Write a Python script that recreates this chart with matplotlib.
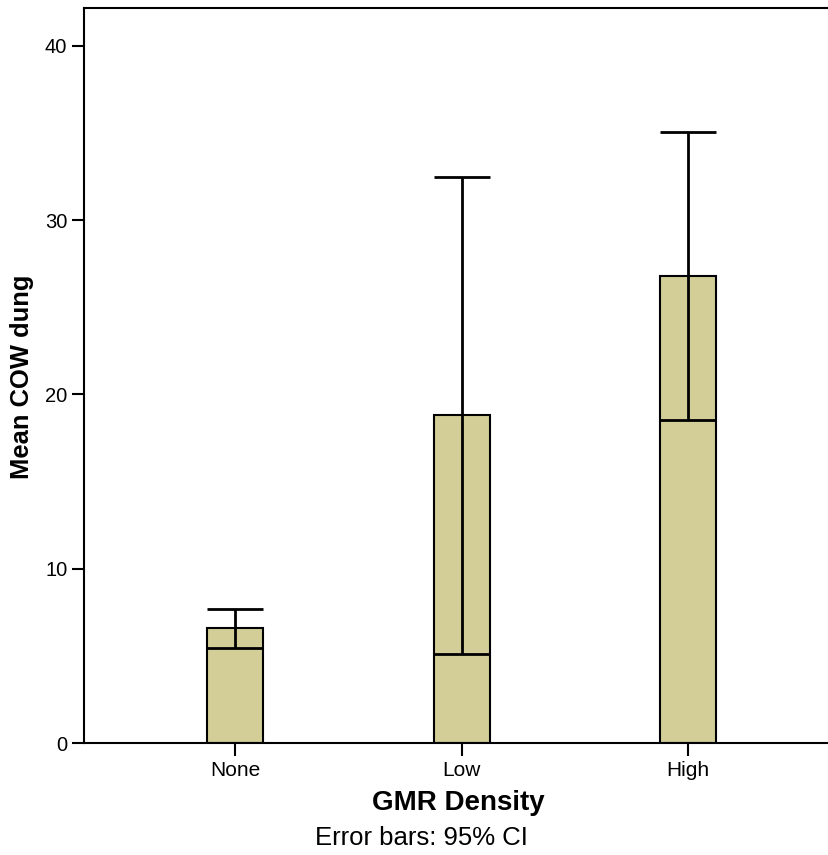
import matplotlib
matplotlib.use("Agg")
import matplotlib.pyplot as plt

# Mean cow dung by GMR density with 95% confidence intervals
categories = ["None", "Low", "High"]
means = [6.6, 18.8, 26.8]
ci_lower = [5.45, 5.08, 18.55]
ci_upper = [7.7, 32.5, 35.05]
y_ticks = [0, 10, 20, 30, 40]

plt.rcParams["font.family"] = ["Liberation Sans", "DejaVu Sans"]

W, H = 829, 855
fig = plt.figure(figsize=(W / 100, H / 100), dpi=100)
ax = fig.add_axes([84 / W, (H - 743) / H, (W - 84) / W, 735 / H])

x = list(range(len(categories)))
bar_color = "#d3ce97"
ax.bar(x, means, width=0.247, color=bar_color, edgecolor="black",
       linewidth=1.5, zorder=2)

err_lo = [m - lo for m, lo in zip(means, ci_lower)]
err_hi = [hi - m for m, hi in zip(means, ci_upper)]
ax.errorbar(x, means, yerr=[err_lo, err_hi], fmt="none", ecolor="black",
            elinewidth=2.0, capsize=20.2, capthick=2.0, zorder=3)

ax.set_xlim(-0.667, 2.622)
ax.set_ylim(0, 42.18)
ax.set_xticks(x)
ax.set_xticklabels(categories)
ax.set_yticks(y_ticks)

for side in ["left", "bottom", "top"]:
    ax.spines[side].set_linewidth(1.5)
ax.spines["right"].set_visible(False)

ax.tick_params(axis="both", direction="out", length=9, width=1.5,
               colors="black")
ax.tick_params(axis="y", pad=3, labelsize=14.5)
ax.tick_params(axis="x", pad=4, labelsize=15)

fig.text(458 / W, 1 - 803 / H, "GMR Density", ha="center", va="center",
         fontsize=20, fontweight="bold")
fig.text(421 / W, 1 - 838 / H, "Error bars: 95% CI", ha="center",
         va="center", fontsize=18.5)
fig.text(22 / W, 1 - 377 / H, "Mean COW dung", ha="center", va="center",
         rotation=90, fontsize=18.4, fontweight="bold")

fig.savefig("out.png", dpi=100)
